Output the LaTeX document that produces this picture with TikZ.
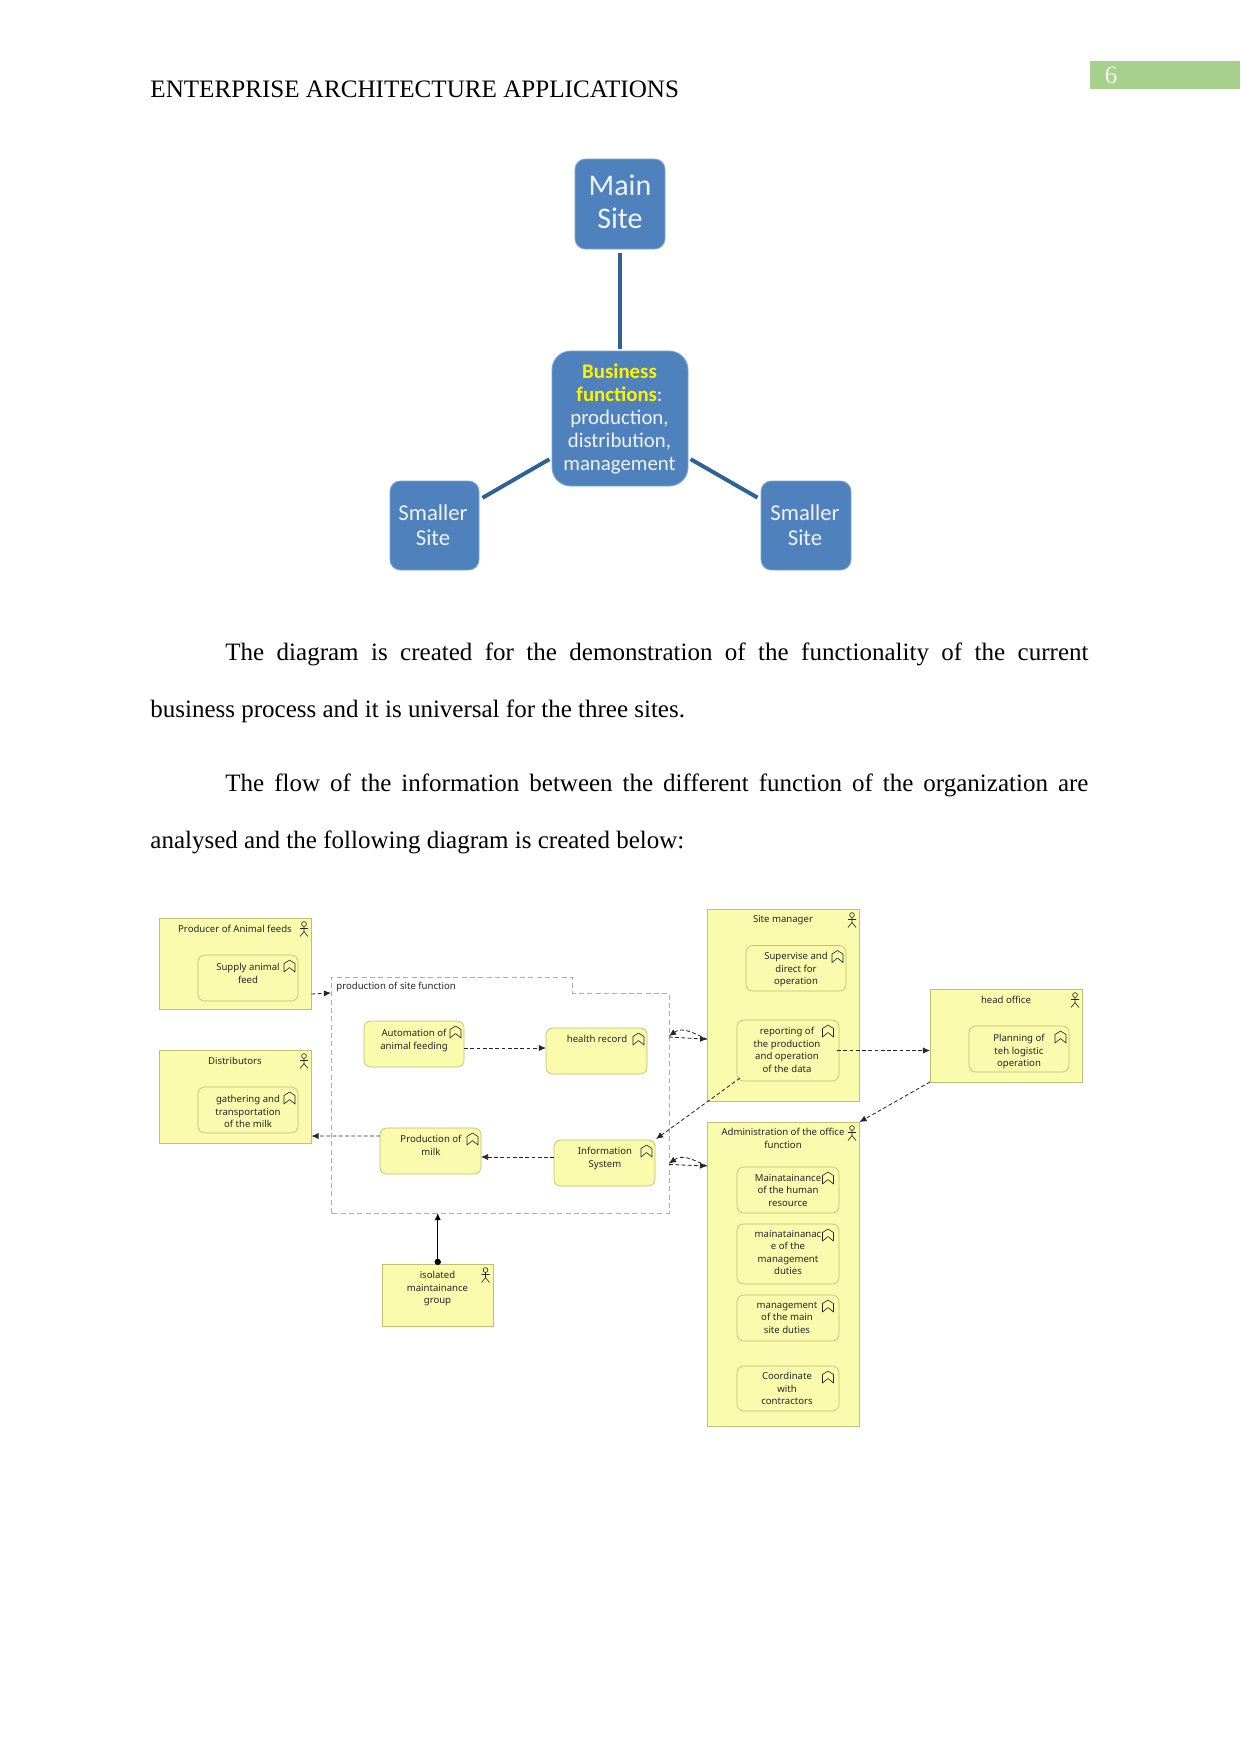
\documentclass[tikz,border=0pt]{standalone}
\usepackage{fontspec}
\setmainfont{Liberation Serif}
\newfontfamily\diagfont{Noto Sans}
\newfontfamily\calfont{Carlito}
\usetikzlibrary{arrows.meta}
\newcommand\pxu{0.48pt}
\definecolor{ayel}{HTML}{FBFBAE}
\definecolor{aedge}{HTML}{BFBF78}
\definecolor{ablue}{HTML}{4F81BD}
\definecolor{bedge}{HTML}{7BA6DC}
\definecolor{bline}{HTML}{2F6295}
\definecolor{btext}{HTML}{EEF3FA}
\definecolor{pagegreen}{HTML}{A8D08D}
\definecolor{pagenum}{HTML}{F1F7EA}
\definecolor{dtext}{HTML}{262626}
\tikzset{
  actorbox/.style={draw=aedge,fill=ayel,line width=0.35pt,inner sep=0pt,outer sep=0pt},
  procbox/.style={draw=aedge,fill=ayel,line width=0.3pt,rounded corners=3.2pt,inner sep=0pt,outer sep=0pt},
  bluebox/.style={draw=bedge,fill=ablue,line width=0.4pt,rounded corners=5pt,inner sep=0pt,outer sep=0pt},
  bluebig/.style={bluebox,rounded corners=9pt},
  anchorbox/.style={inner sep=0pt,outer sep=0pt},
  grpline/.style={draw=black!32,line width=0.4pt,dash pattern=on 2.4pt off 1.6pt},
  lbl/.style={anchor=north,align=center,inner sep=0pt,text=dtext,font=\diagfont\fontsize{4.6}{6}\selectfont},
  bluetxt/.style={align=center,inner sep=0pt,text=btext},
  blink/.style={draw=bline,line width=1.9pt},
  flow/.style={draw=black!85,line width=0.4pt,dash pattern=on 1.8pt off 1.2pt,-{Latex[length=3.4pt,width=3pt]}},
  assign/.style={draw=black,line width=0.5pt,{Circle[length=3pt]}-{Latex[length=3.4pt,width=3pt]}},
  bodytext/.style={anchor=base west,inner sep=0pt,font=\fontsize{12}{14}\selectfont},
  procicon/.pic={\draw[black!85,line width=0.3pt,line join=round] (-5.5,6) -- (-5.5,-2.5) -- (0,-6) -- (5.5,-2.5) -- (5.5,6) -- (0,1.5) -- cycle;},
  actoricon/.pic={\draw[black!85,line width=0.3pt] (0,-5) circle[radius=1.15pt] (0,-2.6) -- (0,2.5) (-4,-0.5) -- (4,-0.5) (-4,7.5) -- (0,2.5) -- (4,7.5);}
}
\newcommand\bxn[6]{%
  \pgfmathsetmacro\bw{(#5-#3)*0.48}\pgfmathsetmacro\bh{(#6-#4)*0.48}%
  \node[#1,minimum width=\bw pt,minimum height=\bh pt] (#2) at ({(#3+#5)/2},{(#4+#6)/2}) {};}
\newcommand\lb[4]{\node[lbl] (#1) at (#2,#3-4) {\rule{0pt}{3.36pt}#4};}
\newcommand\pr[2][8.5]{\pic at ([xshift=-#1*\pxu,yshift=-11*\pxu]#2.north east) {procicon};}
\newcommand\ac[1]{\pic at ([xshift=-7.5*\pxu,yshift=-11*\pxu]#1.north east) {actoricon};}
\begin{document}
\begin{tikzpicture}[x=0.48pt,y=-0.48pt]
\useasboundingbox (0,0) rectangle (1241,1754);
\fill[white] (0,0) rectangle (1241,1754);

% page furniture
\fill[pagegreen] (1090,61) rectangle (1240,89);
\node[anchor=base,inner sep=0pt,text=pagenum,font=\fontsize{12}{14}\selectfont] (pnum) at (1111,83) {6};
\node[bodytext,font=\fontsize{12.05}{14}\selectfont] (head) at (150,97) {ENTERPRISE ARCHITECTURE APPLICATIONS};
\node[bodytext] (p1a) at (225,660) {\hbox to 414.24pt{The diagram is created for the demonstration of the functionality of the current}};
\node[bodytext] (p1b) at (150,717) {business process and it is universal for the three sites.};
\node[bodytext] (p2a) at (225,791) {\hbox to 414.24pt{The flow of the information between the different function of the organization are}};
\node[bodytext] (p2b) at (150,848) {analysed and the following diagram is created below:};

% blue diagram
\bxn{bluebox}{mainsite}{575}{159}{665}{249}
\bxn{bluebig}{biz}{552}{351}{688}{486}
\bxn{bluebox}{leftsite}{390}{481}{479}{570}
\bxn{bluebox}{rightsite}{761}{481}{851}{570}
\node[bluetxt,font=\calfont\fontsize{14.4}{16}\selectfont] (maintxt) at (620,202) {Main\\Site};
\node[bluetxt,font=\calfont\fontsize{10}{11}\selectfont] (biztxt) at (619.5,419) {\textbf{\textcolor{yellow}{Business}}\\\textbf{\textcolor{yellow}{functions}}:\\production,\\distribution,\\management};
\node[bluetxt,font=\calfont\fontsize{10.9}{12}\selectfont] (lefttxt) at (433,525) {Smaller\\Site};
\node[bluetxt,font=\calfont\fontsize{10.9}{12}\selectfont] (righttxt) at (805,525) {Smaller\\Site};
\draw[blink,shorten <=4*\pxu,shorten >=2*\pxu] (mainsite) -- (biz);
\draw[blink,shorten <=4*\pxu,shorten >=3*\pxu] (leftsite) -- (biz);
\draw[blink,shorten <=4*\pxu,shorten >=3*\pxu] (rightsite) -- (biz);

% grouping frame
\bxn{anchorbox}{grp}{331}{993}{669}{1213}
\bxn{anchorbox}{tab}{331}{977}{572.5}{993}
\draw[grpline] (grp.south west) -- (tab.north west) -- (tab.north east) -- (tab.south east) -- (grp.north east) -- (grp.south east) -- cycle;
\node[lbl,anchor=north west] (grplbl) at (336,986-4) {\rule{0pt}{3.36pt}production of site function};

% actors
\bxn{actorbox}{producer}{159}{918}{311.5}{1009}
\bxn{actorbox}{distrib}{159}{1050}{311.5}{1143}
\bxn{actorbox}{isolated}{382.5}{1264}{493}{1326}
\bxn{actorbox}{sitemgr}{707}{909}{859.5}{1101.5}
\bxn{actorbox}{headoff}{930}{989}{1082.5}{1082}
\bxn{actorbox}{admin}{707}{1122}{859.5}{1426}
\ac{producer}\ac{distrib}\ac{isolated}\ac{sitemgr}\ac{headoff}\ac{admin}

% processes
\bxn{procbox}{supply}{198}{955}{298}{1001}
\bxn{procbox}{gather}{198}{1087}{298}{1133}
\bxn{procbox}{autom}{364}{1021}{464}{1067}
\bxn{procbox}{health}{546}{1028}{647}{1074}
\bxn{procbox}{prodmilk}{380}{1128}{481}{1174}
\bxn{procbox}{infosys}{554}{1140}{655}{1186}
\bxn{procbox}{superv}{746}{945.5}{846}{991}
\bxn{procbox}{report}{737}{1020}{839}{1081}
\bxn{procbox}{plan}{969}{1026}{1069}{1072}
\bxn{procbox}{hr}{737}{1167}{839}{1213}
\bxn{procbox}{mduties}{737}{1224}{839}{1284}
\bxn{procbox}{msite}{737}{1295}{839}{1341}
\bxn{procbox}{coord}{737}{1366}{839}{1411}
\pr{supply}\pr{gather}\pr{autom}\pr{health}\pr{prodmilk}\pr{infosys}\pr{superv}\pr[11]{report}\pr{plan}\pr[11]{hr}\pr[11]{mduties}\pr[11]{msite}\pr[11]{coord}

% labels
\lb{t1}{235}{929}{Producer of Animal feeds}
\lb{t2}{235}{1061}{Distributors}
\lb{t3}{437.5}{1275}{isolated\\maintainance\\group}
\lb{t4}{783}{919}{Site manager}
\lb{t5}{1006}{1000}{head office}
\lb{t6}{783}{1132}{Administration of the office\\function}
\lb{t7}{248}{967}{Supply animal\\feed}
\lb{t8}{248}{1099}{gathering and\\transportation\\of the milk}
\lb{t9}{414}{1033}{Automation of\\animal feeding}
\lb{t10}{597}{1039}{health record}
\lb{t11}{431}{1139}{Production of\\milk}
\lb{t12}{605}{1151}{Information\\System}
\lb{t13}{796}{956}{Supervise and\\direct for\\operation}
\lb{t14}{787}{1031}{reporting of\\the production\\and operation\\of the data}
\lb{t15}{1019}{1038}{Planning of\\teh logistic\\operation}
\lb{t16}{788}{1178}{Mainatainance\\of the human\\resource}
\lb{t17}{788}{1234}{mainatainanac\\e of the\\management\\duties}
\lb{t18}{787}{1305}{management\\of the main\\site duties}
\lb{t19}{787}{1376}{Coordinate\\with\\contractors}

% connectors
\draw[flow] ([yshift=-30.5*\pxu]producer.east) -- ([yshift=110*\pxu]grp.west);
\draw[flow] ([yshift=-4*\pxu]autom.east) -- ([yshift=3*\pxu]health.west);
\draw[flow] ([yshift=15*\pxu]prodmilk.west) -- ([yshift=-39.5*\pxu]distrib.east);
\draw[flow] ([yshift=6*\pxu]infosys.west) -- ([yshift=-6*\pxu]prodmilk.east);
\draw[assign] ([yshift=-1*\pxu]isolated.north) -- (isolated.north |- grp.south);
\draw[flow] ([yshift=66*\pxu]grp.east) -- ([yshift=-34*\pxu]sitemgr.west);
\draw[flow] ([yshift=-34*\pxu]sitemgr.west) to[out=155,in=35,looseness=1.1] ([yshift=67*\pxu]grp.east);
\draw[flow] ([yshift=-61.5*\pxu]grp.east) -- ([yshift=108*\pxu]admin.west);
\draw[flow] ([yshift=108*\pxu]admin.west) to[out=155,in=35,looseness=1.1] ([yshift=-60.5*\pxu]grp.east);
\draw[flow] ([xshift=3*\pxu,yshift=3*\pxu]report.south west) -- ([xshift=1*\pxu,yshift=1*\pxu]infosys.north east);
\draw[flow] ([xshift=-2*\pxu]report.east) -- ([yshift=-15*\pxu]headoff.west);
\draw[flow] (headoff.south west) -- (admin.north east);
\end{tikzpicture}
\end{document}
